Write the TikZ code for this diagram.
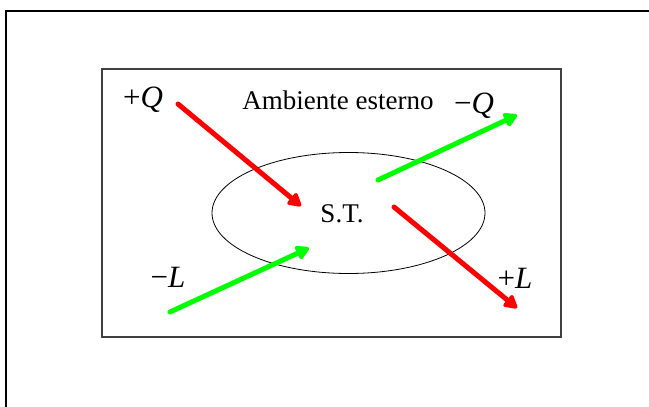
\documentclass[tikz,border=0pt]{standalone}
\usepackage{fontspec}
\setmainfont{Liberation Serif}
\usetikzlibrary{arrows.meta,shapes.geometric}
\definecolor{pured}{RGB}{255,0,0}
\definecolor{pugreen}{RGB}{0,255,0}
\tikzset{
  flow/.style={line width=5pt, line cap=round, -{Triangle[length=15pt,width=16pt,round]}},
  big/.style={font=\fontsize{27}{30}\selectfont, inner sep=0pt, anchor=base},
  lbl/.style={font=\fontsize{31}{34}\selectfont, inner sep=0pt, anchor=base},
}
\begin{document}
\begin{tikzpicture}[x=1pt,y=-1pt]
\useasboundingbox (0,0) rectangle (649,407);
% outer frame (top and left only)
\draw[line width=2pt] (6,407) -- (6,11) -- (649,11);
% environment box
\draw[line width=1.3pt, draw=black!75] (102,69) rectangle (561,337);
% system
\node[draw, line width=0.8pt, ellipse, minimum width=273pt, minimum height=121pt, inner sep=0pt] (st) at (348.5,213) {};
\node[big] (sttext) at (342,222) {S.T.};
\node[big] (amb) at (338,109) {Ambiente esterno};
% labels
\node[lbl] (pQ) at (143,107) {+\textit{Q}};
\node[lbl] (mQ) at (474,113) {\char"2212\textit{Q}};
\node[lbl] (pL) at (515,288) {+\textit{L}};
\node[lbl] (mL) at (168,287) {\char"2212\textit{L}};
% arrow end points
\coordinate (a1s) at (178,104);
\coordinate (a1e) at (301,206);
\coordinate (a2s) at (378,180);
\coordinate (a2e) at (517,115);
\coordinate (a3s) at (394,207);
\coordinate (a3e) at (517,308);
\coordinate (a4s) at (170,312);
\coordinate (a4e) at (309,248);
\draw[flow, pured] (a1s) -- (a1e);
\draw[flow, pugreen] (a2s) -- (a2e);
\draw[flow, pured] (a3s) -- (a3e);
\draw[flow, pugreen] (a4s) -- (a4e);
\end{tikzpicture}
\end{document}
